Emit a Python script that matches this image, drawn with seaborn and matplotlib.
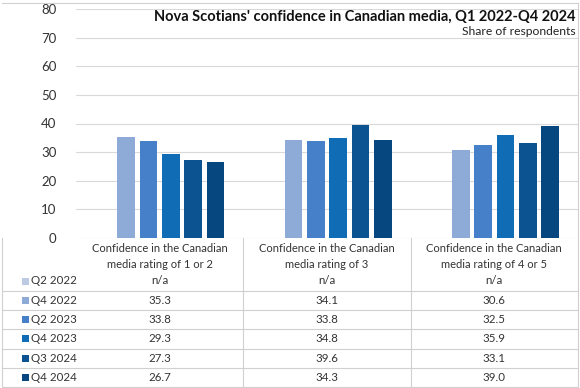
import matplotlib
matplotlib.use("Agg")
import matplotlib.pyplot as plt
import seaborn as sns
import pandas as pd
import numpy as np

categories = [
    "Confidence in the Canadian\nmedia rating of 1 or 2",
    "Confidence in the Canadian\nmedia rating of 3",
    "Confidence in the Canadian\nmedia rating of 4 or 5",
]
periods = ["Q2 2022", "Q4 2022", "Q2 2023", "Q4 2023", "Q3 2024", "Q4 2024"]
q2_2022 = [np.nan, np.nan, np.nan]
q4_2022 = [35.3, 34.1, 30.6]
q2_2023 = [33.8, 33.8, 32.5]
q4_2023 = [29.3, 34.8, 35.9]
q3_2024 = [27.3, 39.6, 33.1]
q4_2024 = [26.7, 34.3, 39.0]
series = [q2_2022, q4_2022, q2_2023, q4_2023, q3_2024, q4_2024]
colors = ["#bccae3", "#8eaad6", "#4680c8", "#0f6cb5", "#0b5391", "#07477f"]

rows = []
for p, vals in zip(periods, series):
    for c, v in zip(categories, vals):
        if not np.isnan(v):
            rows.append({"category": c, "period": p, "value": v})
df = pd.DataFrame(rows)

W, H = 580, 388
plt.rcParams["font.family"] = ["Lato", "DejaVu Sans"]
fig = plt.figure(figsize=(W / 100, H / 100), dpi=100)

# background axes in pixel coordinates for table and borders
bg = fig.add_axes([0, 0, 1, 1])
bg.set_xlim(0, W)
bg.set_ylim(H, 0)
bg.axis("off")

x0, x1, y_top, y_bot = 76, 578, 9, 238
ax = fig.add_axes([x0 / W, 1 - y_bot / H, (x1 - x0) / W, (y_bot - y_top) / H])
sns.barplot(data=df, x="category", y="value", hue="period", order=categories,
            hue_order=periods, palette=dict(zip(periods, colors)), gap=0.2,
            saturation=1, linewidth=0, legend=False, ax=ax, zorder=3)
ax.set_ylim(0, 80)
ax.set_xlim(-0.5, 2.5)
ax.set_yticks(range(0, 81, 10))
ax.grid(axis="y", color="#d9d9d9", lw=0.8, zorder=0)
ax.set_axisbelow(True)
for s in ax.spines.values():
    s.set_visible(False)
ax.set_xticks([])
ax.set_xlabel("")
ax.set_ylabel("")
ax.tick_params(axis="y", length=0, pad=14, labelsize=9.5, labelcolor="#333333")
ax.patch.set_alpha(0)

ax.text(0.996, 0.965, "Nova Scotians' confidence in Canadian media, Q1 2022-Q4 2024",
        transform=ax.transAxes, ha="right", va="center", fontsize=10.5,
        fontweight="bold", color="#111111")
ax.text(0.996, 0.9, "Share of respondents", transform=ax.transAxes, ha="right",
        va="center", fontsize=8.7, color="#222222")

# table
line_c = "#d0d0d0"
col_edges = [2, 243, 411, 578]
col_centers = [160, 327, 494]
row_h = 19.3
first_row = 281
for cx, c in zip(col_centers, categories):
    bg.text(cx, 256.5, c, ha="center", va="center", fontsize=8, color="#333333",
            linespacing=1.5)
for i, (p, col, vals) in enumerate(zip(periods, colors, series)):
    yc = first_row + i * row_h
    bg.add_patch(plt.Rectangle((22, yc - 3.5), 7, 7, color=col, lw=0))
    bg.text(31, yc, p, ha="left", va="center", fontsize=8.3, color="#333333")
    for cx, v in zip(col_centers, vals):
        bg.text(cx, yc, "n/a" if np.isnan(v) else f"{v:.1f}", ha="center",
                va="center", fontsize=8.3, color="#333333")
    bg.plot([2, 578], [yc + row_h / 2, yc + row_h / 2], color=line_c, lw=0.8)
for xe in col_edges:
    bg.plot([xe, xe], [238, 386], color=line_c, lw=0.8)
bg.plot([578, 578], [3, 238], color=line_c, lw=0.8)
bg.plot([2, 578], [3, 3], color=line_c, lw=0.8)

fig.savefig("out.png", dpi=100)
